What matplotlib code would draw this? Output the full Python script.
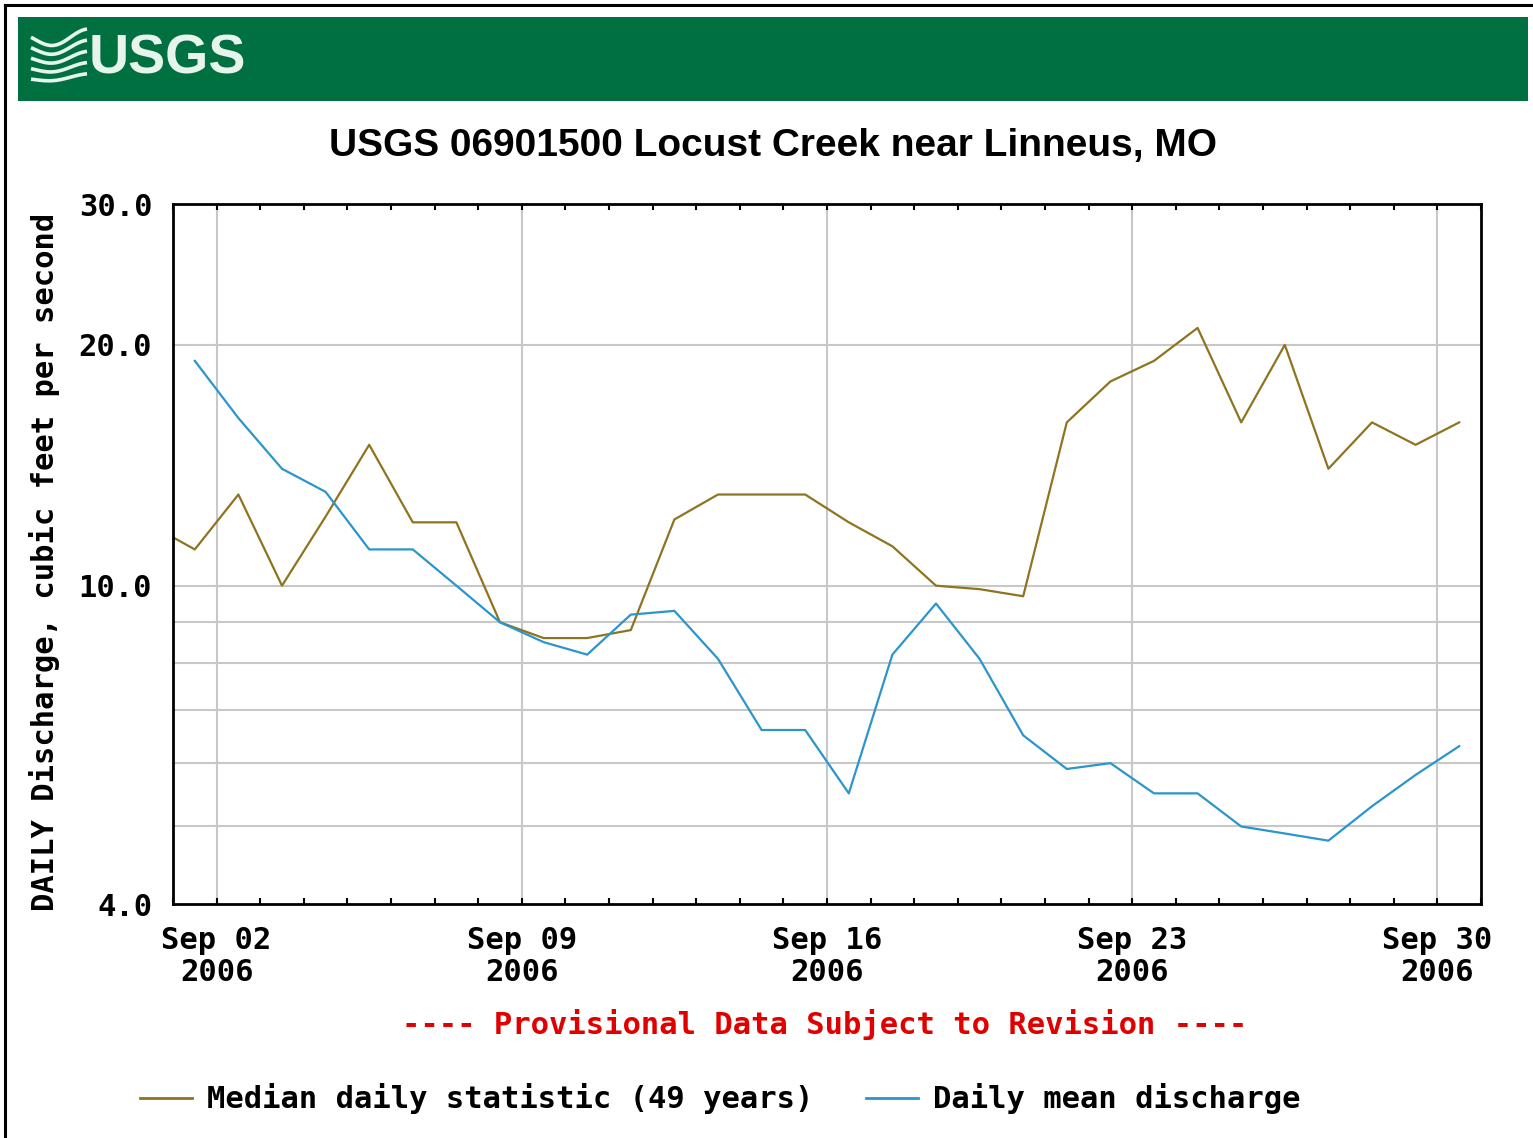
import numpy as np
import matplotlib
matplotlib.use("Agg")
import matplotlib.pyplot as plt
import matplotlib.dates as mdates
from matplotlib.lines import Line2D
from matplotlib.patches import Rectangle
from matplotlib.ticker import FixedLocator, FixedFormatter, NullLocator

W, H = 1533, 1138

# daily values, plotted at noon of each day
median_start, median_end = "2006-08-31", "2006-10-01"
median_cfs = [11.9, 11.1, 13.0, 10.0, 12.2, 15.0, 12.0, 12.0, 9.0, 8.6, 8.6,
              8.8, 12.1, 13.0, 13.0, 13.0, 12.0, 11.2, 10.0, 9.9, 9.7,
              16.0, 18.0, 19.1, 21.0, 16.0, 20.0, 14.0, 16.0, 15.0, 16.0]
mean_start, mean_end = "2006-09-01", "2006-10-01"
mean_cfs = [19.1, 16.2, 14.0, 13.1, 11.1, 11.1, 10.0, 9.0, 8.5, 8.2,
            9.2, 9.3, 8.1, 6.6, 6.6, 5.5, 8.2, 9.5, 8.1, 6.5,
            5.9, 6.0, 5.5, 5.5, 5.0, 4.9, 4.8, 5.3, 5.8, 6.3]

y_ticks = [4.0, 10.0, 20.0, 30.0]
y_tick_labels = ["4.0", "10.0", "20.0", "30.0"]
y_grid = [5, 6, 7, 8, 9, 10, 20]
label_days = [2, 9, 16, 23, 30]

title = "USGS 06901500 Locust Creek near Linneus, MO"
ylabel = "DAILY Discharge, cubic feet per second"
notice = "---- Provisional Data Subject to Revision ----"
legend_labels = ["Median daily statistic (49 years)", "Daily mean discharge"]

median_color = "#8f7420"
mean_color = "#2b95cc"
mono = "DejaVu Sans Mono"
sans = ["Liberation Sans", "DejaVu Sans"]
fs = 22


def fx(x):
    return x / W


def fy(y):
    return 1 - y / H


noon = np.timedelta64(12, "h")
median_x = np.arange(median_start, median_end, dtype="datetime64[D]") + noon
mean_x = np.arange(mean_start, mean_end, dtype="datetime64[D]") + noon

fig = plt.figure(figsize=(W / 100, H / 100), dpi=100)
fig.patch.set_facecolor("white")

# page frame
fig.add_artist(Line2D([fx(5), fx(5)], [fy(5), 0], color="black", lw=2.2))
fig.add_artist(Line2D([fx(5), 1], [fy(5), fy(5)], color="black", lw=2.2))

# green banner with logo
fig.add_artist(Rectangle((fx(18), fy(101)), fx(1528 - 18), (101 - 17) / H,
                         facecolor="#007040", edgecolor="none"))
t = np.linspace(0, 1, 60)
for k in range(5):
    y0 = 40 + k * 10
    xs = 31 + t * 56
    ys = y0 + (7 - k * 1.2) * np.sin(np.pi * t * 1.6 - 0.4) - t * 4
    fig.add_artist(Line2D(fx(xs), fy(ys), color="#e6f4ec", lw=2.6,
                          solid_capstyle="butt"))
fig.text(fx(89), fy(60), "USGS", color="#e6f4ec", fontsize=40,
         fontweight="bold", family=sans, ha="left", va="center")

fig.text(fx(773), fy(146), title, fontsize=28, fontweight="bold",
         family=sans, ha="center", va="center")

ax = fig.add_axes([fx(173), fy(904), fx(1481 - 173), (904 - 204) / H])
ax.plot(median_x, median_cfs, color=median_color, lw=1.6)
ax.plot(mean_x, mean_cfs, color=mean_color, lw=1.6)

ax.set_yscale("log")
ax.set_ylim(4, 30)
ax.yaxis.set_major_locator(FixedLocator(y_ticks))
ax.yaxis.set_major_formatter(FixedFormatter(y_tick_labels))
ax.yaxis.set_minor_locator(NullLocator())
for v in y_grid:
    ax.axhline(v, color="#c8c8c8", lw=1.5, zorder=0)

ax.set_xlim(np.datetime64("2006-09-01"), np.datetime64("2006-10-01"))
ax.xaxis.set_major_locator(mdates.DayLocator(bymonthday=label_days))
ax.xaxis.set_major_formatter(mdates.DateFormatter("%b %d\n%Y"))
ax.xaxis.set_minor_locator(mdates.DayLocator())
ax.grid(axis="x", which="major", color="#c8c8c8", lw=1.5, zorder=0)

ax.tick_params(axis="x", which="both", direction="in", top=True,
               length=4, width=1.5, pad=16)
ax.tick_params(axis="y", which="both", length=0, pad=15)
for lab in ax.get_xticklabels() + ax.get_yticklabels():
    lab.set_family(mono)
    lab.set_fontweight("bold")
    lab.set_fontsize(fs)
for lab in ax.get_xticklabels():
    lab.set_linespacing(1.12)
for s in ax.spines.values():
    s.set_linewidth(2)

fig.text(fx(45), fy(562), ylabel, rotation=90, family=mono,
         fontweight="bold", fontsize=fs, ha="center", va="center")

fig.text(fx(825), fy(1025), notice, color="#e00000", family=mono,
         fontweight="bold", fontsize=fs, ha="center", va="center")

# legend drawn below the notice
for (x0, x1, tx), lab, col in zip([(140, 192, 207), (866, 918, 933)],
                                  legend_labels, [median_color, mean_color]):
    fig.add_artist(Line2D([fx(x0), fx(x1)], [fy(1098), fy(1098)],
                          color=col, lw=2))
    fig.text(fx(tx), fy(1098), lab, family=mono, fontweight="bold",
             fontsize=fs, ha="left", va="center")

fig.savefig("out.png", dpi=100)
